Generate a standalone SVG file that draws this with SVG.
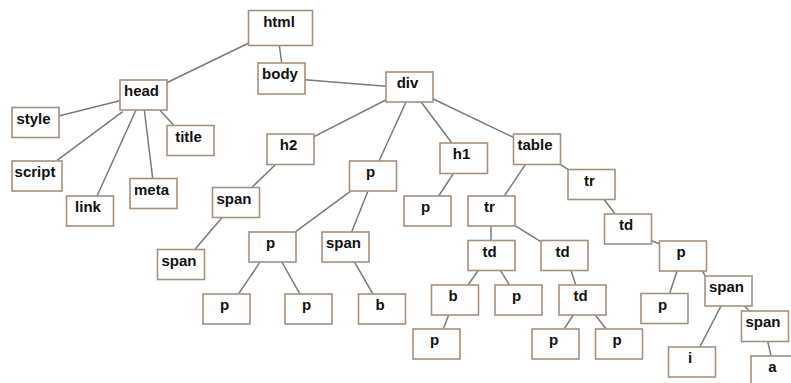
<svg xmlns="http://www.w3.org/2000/svg" width="791" height="383" viewBox="0 0 791 383">
<style>
.n rect{fill:#fff;stroke:#a88f7a;stroke-width:1.6}
.n text{font-family:"Liberation Sans",Arial,sans-serif;font-weight:bold;font-size:15px;fill:#111;text-anchor:middle}
#edges line{stroke:#7a7a7a;stroke-width:1.5}
</style>
<rect width="791" height="383" fill="#fff"/>
<g id="edges">
<line x1="248.3" y1="43.3" x2="166.7" y2="82.7"/>
<line x1="279.3" y1="45.3" x2="281.7" y2="63"/>
<line x1="305" y1="79.7" x2="385.7" y2="86.3"/>
<line x1="119.7" y1="100.7" x2="58.7" y2="116"/>
<line x1="122.7" y1="111.7" x2="56.7" y2="160.7"/>
<line x1="136" y1="110" x2="96.7" y2="196.7"/>
<line x1="144.3" y1="110" x2="152.7" y2="178.3"/>
<line x1="159.7" y1="110" x2="173.7" y2="125.3"/>
<line x1="385.7" y1="100" x2="314" y2="136.7"/>
<line x1="406" y1="102" x2="379" y2="161"/>
<line x1="275.3" y1="164.7" x2="252.3" y2="187"/>
<line x1="421.3" y1="102.3" x2="451.7" y2="142.7"/>
<line x1="432.7" y1="98.7" x2="513.3" y2="137.3"/>
<line x1="525.3" y1="164.7" x2="504.3" y2="196"/>
<line x1="560.7" y1="164.7" x2="568" y2="169.3"/>
<line x1="453.3" y1="173.7" x2="438.7" y2="196"/>
<line x1="222.3" y1="217.3" x2="195" y2="249.3"/>
<line x1="350" y1="191.7" x2="295.7" y2="231.7"/>
<line x1="367.7" y1="191.7" x2="351.7" y2="231.7"/>
<line x1="260.3" y1="261.7" x2="238.7" y2="293.7"/>
<line x1="281.7" y1="261.7" x2="299.7" y2="293.7"/>
<line x1="354.3" y1="261.7" x2="372.7" y2="293.7"/>
<line x1="604.3" y1="199.7" x2="615" y2="213.7"/>
<line x1="491" y1="226.3" x2="491" y2="240.3"/>
<line x1="515" y1="225.7" x2="540.7" y2="241.7"/>
<line x1="651.7" y1="240.7" x2="659.3" y2="243.7"/>
<line x1="478.3" y1="270.3" x2="468.3" y2="284.7"/>
<line x1="500.3" y1="270.3" x2="509.3" y2="284.7"/>
<line x1="571" y1="270.3" x2="575.7" y2="284.7"/>
<line x1="677.3" y1="270.3" x2="669.7" y2="293.3"/>
<line x1="702.3" y1="270.3" x2="705" y2="275.7"/>
<line x1="448.7" y1="315" x2="443.3" y2="328.7"/>
<line x1="573.3" y1="315" x2="564.3" y2="328.7"/>
<line x1="595.3" y1="315" x2="606" y2="328.7"/>
<line x1="721" y1="306" x2="700" y2="346.7"/>
<line x1="744.3" y1="306" x2="749.3" y2="311"/>
<line x1="767.7" y1="341.7" x2="771" y2="355.7"/>
</g>
<g id="n-html" class="n"><rect x="248.5" y="10.5" width="64" height="35"/><text x="279" y="26.5">html</text></g>
<g id="n-body" class="n"><rect x="258" y="63" width="47" height="31"/><text x="280" y="79">body</text></g>
<g id="n-head" class="n"><rect x="120" y="80" width="47" height="30"/><text x="141.5" y="96">head</text></g>
<g id="n-style" class="n"><rect x="12" y="107.5" width="47" height="30"/><text x="33.5" y="123.5">style</text></g>
<g id="n-title" class="n"><rect x="167" y="125.5" width="47" height="30"/><text x="188.5" y="141.5">title</text></g>
<g id="n-script" class="n"><rect x="12" y="161" width="50" height="30"/><text x="35" y="177">script</text></g>
<g id="n-meta" class="n"><rect x="130" y="178.5" width="47" height="30"/><text x="151.5" y="194.5">meta</text></g>
<g id="n-link" class="n"><rect x="66.5" y="196" width="47" height="30"/><text x="88" y="212">link</text></g>
<g id="n-div" class="n"><rect x="386" y="72" width="47" height="30"/><text x="407.5" y="88">div</text></g>
<g id="n-h2" class="n"><rect x="267" y="134" width="47" height="30.5"/><text x="288.5" y="150">h2</text></g>
<g id="n-p1" class="n"><rect x="349.5" y="161" width="47" height="30"/><text x="370.5" y="177">p</text></g>
<g id="n-h1" class="n"><rect x="440" y="143" width="47.5" height="30.5"/><text x="461.5" y="159">h1</text></g>
<g id="n-table" class="n"><rect x="513.5" y="134" width="47" height="30.5"/><text x="535" y="150">table</text></g>
<g id="n-tr2" class="n"><rect x="568" y="169.5" width="47" height="30"/><text x="589.5" y="185.5">tr</text></g>
<g id="n-span1" class="n"><rect x="212.5" y="187.5" width="47" height="30"/><text x="234" y="203.5">span</text></g>
<g id="n-span2" class="n"><rect x="157.5" y="249.5" width="47" height="30"/><text x="179" y="265.5">span</text></g>
<g id="n-p2" class="n"><rect x="249" y="232" width="47" height="30"/><text x="270.5" y="248">p</text></g>
<g id="n-span3" class="n"><rect x="322" y="232" width="47" height="30"/><text x="343.5" y="248">span</text></g>
<g id="n-p3" class="n"><rect x="203" y="294" width="47" height="30"/><text x="224.5" y="310">p</text></g>
<g id="n-p4" class="n"><rect x="285" y="294" width="47" height="30"/><text x="306.5" y="310">p</text></g>
<g id="n-b1" class="n"><rect x="358.5" y="294" width="47" height="30"/><text x="380" y="310">b</text></g>
<g id="n-p5" class="n"><rect x="404" y="196" width="47" height="30"/><text x="425.5" y="212">p</text></g>
<g id="n-tr1" class="n"><rect x="468" y="196" width="47" height="30"/><text x="489.5" y="212">tr</text></g>
<g id="n-td1" class="n"><rect x="604.5" y="214" width="47" height="30"/><text x="626" y="230">td</text></g>
<g id="n-td2" class="n"><rect x="468" y="240.5" width="47" height="30"/><text x="489.5" y="256.5">td</text></g>
<g id="n-td3" class="n"><rect x="541" y="240.5" width="47" height="30"/><text x="562.5" y="256.5">td</text></g>
<g id="n-p6" class="n"><rect x="659.5" y="241" width="47" height="30"/><text x="681" y="257">p</text></g>
<g id="n-b2" class="n"><rect x="431.5" y="285" width="47" height="30"/><text x="453" y="301">b</text></g>
<g id="n-p7" class="n"><rect x="495" y="285" width="47" height="30"/><text x="516.5" y="301">p</text></g>
<g id="n-td4" class="n"><rect x="559" y="285" width="47" height="30"/><text x="580.5" y="301">td</text></g>
<g id="n-span4" class="n"><rect x="705" y="276" width="47" height="30"/><text x="726.5" y="292">span</text></g>
<g id="n-p8" class="n"><rect x="641" y="293.5" width="47" height="30"/><text x="662.5" y="309.5">p</text></g>
<g id="n-p9" class="n"><rect x="413" y="329" width="47" height="30"/><text x="434.5" y="345">p</text></g>
<g id="n-p10" class="n"><rect x="532" y="329" width="47" height="30"/><text x="553.5" y="345">p</text></g>
<g id="n-p11" class="n"><rect x="595.5" y="329" width="47" height="30"/><text x="617" y="345">p</text></g>
<g id="n-span5" class="n"><rect x="741.5" y="311" width="47" height="30.5"/><text x="763" y="327">span</text></g>
<g id="n-i" class="n"><rect x="668.5" y="347" width="47" height="30"/><text x="690" y="363">i</text></g>
<g id="n-a" class="n"><rect x="751" y="356" width="47" height="30"/><text x="772.5" y="372">a</text></g>
</svg>
